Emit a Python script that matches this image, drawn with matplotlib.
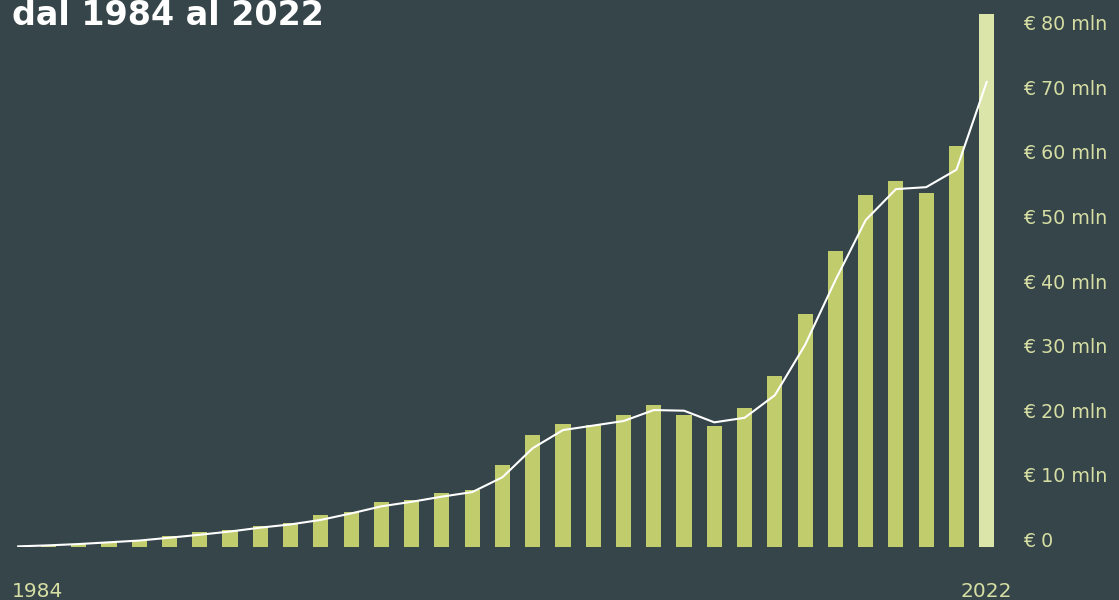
import matplotlib
matplotlib.use('Agg')
import matplotlib.pyplot as plt
import numpy as np

# values in million euro (first point has no bar)
bar_values = [0, 0.15, 0.4, 0.8, 1.1, 1.7, 2.3, 2.6, 3.2, 3.7, 5.0, 5.4, 7.0, 7.3, 8.4, 8.8,
              12.7, 17.3, 19.0, 18.9, 20.4, 22.0, 20.4, 18.7, 21.5, 26.5, 36.1, 45.8,
              54.5, 56.7, 54.8, 62.1, 82.5]
line_values = [0.1, 0.26, 0.46, 0.73, 1.0, 1.44, 1.9, 2.4, 3.0, 3.5, 4.2, 5.2, 6.3, 7.0, 7.8, 8.5,
               10.8, 15.3, 18.1, 18.8, 19.5, 21.2, 21.1, 19.3, 20.0, 23.5, 31.3, 41.3,
               50.6, 55.4, 55.7, 58.4, 72.0]
y_ticks = [0, 10, 20, 30, 40, 50, 60, 70, 80]
y_labels = ['€ 0', '€ 10 mln', '€ 20 mln', '€ 30 mln', '€ 40 mln', '€ 50 mln',
            '€ 60 mln', '€ 70 mln', '€ 80 mln']
first_label = '1984'
last_label = '2022'
title = 'dal 1984 al 2022'

bg = '#36454a'
bar_color = '#c1cc6c'
last_color = '#dbe4a9'
text_color = '#d6dea3'

x = np.arange(len(bar_values))
colors = [bar_color] * (len(bar_values) - 1) + [last_color]

fig = plt.figure(figsize=(11.19, 6), dpi=100, facecolor=bg)
ax = fig.add_axes([0, 0.0883, 0.8937, 0.9117])
ax.set_facecolor(bg)

ax.bar(x, bar_values, width=0.5, color=colors)
ax.plot(x, line_values, color='white', linewidth=1.5)

ax.set_xlim(-0.601, 32.44)
ax.set_ylim(0, 84.67)
ax.axis('off')

# y labels on the right, baseline sitting on the value
tr = ax.get_yaxis_transform()
for v, lab in zip(y_ticks, y_labels):
    ax.text(1.023, v, lab, transform=tr, color=text_color, fontsize=13.7,
            ha='left', va='baseline', clip_on=False)

ax.text(0.012, -0.091, first_label, transform=ax.transAxes, color=text_color,
        fontsize=14.5, ha='left', va='baseline', clip_on=False)
ax.text(x[-1], -0.091, last_label, transform=ax.get_xaxis_transform(), color=text_color,
        fontsize=14.5, ha='center', va='baseline', clip_on=False)

# title is partly cropped at the top, as in the original
fig.text(12 / 1119, 1 - 25 / 600, title, color='white', fontsize=24, fontweight='bold',
         ha='left', va='baseline')

plt.savefig('out.png', dpi=100, facecolor=bg)
